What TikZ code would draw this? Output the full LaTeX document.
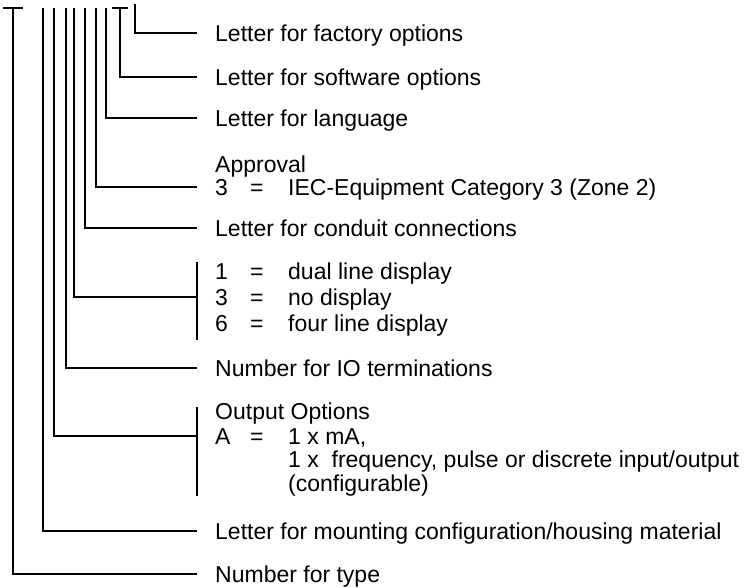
\documentclass[tikz,border=0pt]{standalone}
\usepackage{fontspec}
\setmainfont{Liberation Sans}
\usetikzlibrary{positioning}
\newcommand{\eqrow}[3]{\makebox[35pt][l]{#1}\makebox[38pt][l]{#2}#3}

\begin{document}
\begin{tikzpicture}[
  x=1pt, y=-1pt,
  font=\fontsize{23}{27}\selectfont,
  lbl/.style={anchor=west, inner sep=0pt, text height=16.4pt, text depth=0pt},
  ld/.style={line width=1.8pt},
]
\useasboundingbox (0,0) rectangle (752,588);

% ---- labels ---------------------------------------------------------------
\node[lbl] (fac)   at (215,33)  {Letter for factory options};
\node[lbl] (sw)    at (215,77)  {Letter for software options};
\node[lbl] (lang)  at (215,118) {Letter for language};
\node[lbl] (apprh) at (215,164) {Approval};
\node[lbl] (appr)  at (215,187) {\eqrow{3}{=}{IEC-Equipment Category 3 (Zone 2)}};
\node[lbl] (cond)  at (215,228) {Letter for conduit connections};
\node[lbl] (d1)    at (215,271) {\eqrow{1}{=}{dual line display}};
\node[lbl] (d3)    at (215,297) {\eqrow{3}{=}{no display}};
\node[lbl] (d6)    at (215,323) {\eqrow{6}{=}{four line display}};
\node[lbl] (io)    at (215,368) {Number for IO terminations};
\node[lbl] (outh)  at (215,411) {Output Options};
\node[lbl] (outa)  at (215,436) {\eqrow{A}{=}{1 x mA,}};
\node[lbl] (outb)  at (288,459) {1 x\ \ frequency, pulse or discrete input/output};
\node[lbl] (outc)  at (288,483) {(configurable)};
\node[lbl] (mount) at (215,531) {Letter for mounting configuration/housing material};
\node[lbl] (type)  at (215,574) {Number for type};

% ---- code positions -------------------------------------------------------
\coordinate (top-fac) at (135,4);
\foreach \n/\x in {type/13, mount/43, outa/54, io/66, d3/74,
                   cond/85, appr/96, lang/106, sw/120}
  \coordinate (top-\n) at (\x,8);

\foreach \n in {fac, sw, lang, appr, cond, d3, io, outa, mount, type}
  \draw[ld] (top-\n) |- ([xshift=-18pt]\n.west);

% T bars on the first and the software line
\draw[ld] ([xshift=-10pt]top-type) -- ([xshift=10pt]top-type);
\draw[ld] ([xshift=-8pt]top-sw) -- ([xshift=8pt]top-sw);

% brackets for the listed choices
\coordinate (br-d-t) at (197,262);
\coordinate (br-d-b) at (197,340);
\coordinate (br-o-t) at (197,407);
\coordinate (br-o-b) at (197,496);
\draw[ld] (br-d-t) -- (br-d-b);
\draw[ld] (br-o-t) -- (br-o-b);

\end{tikzpicture}
\end{document}
